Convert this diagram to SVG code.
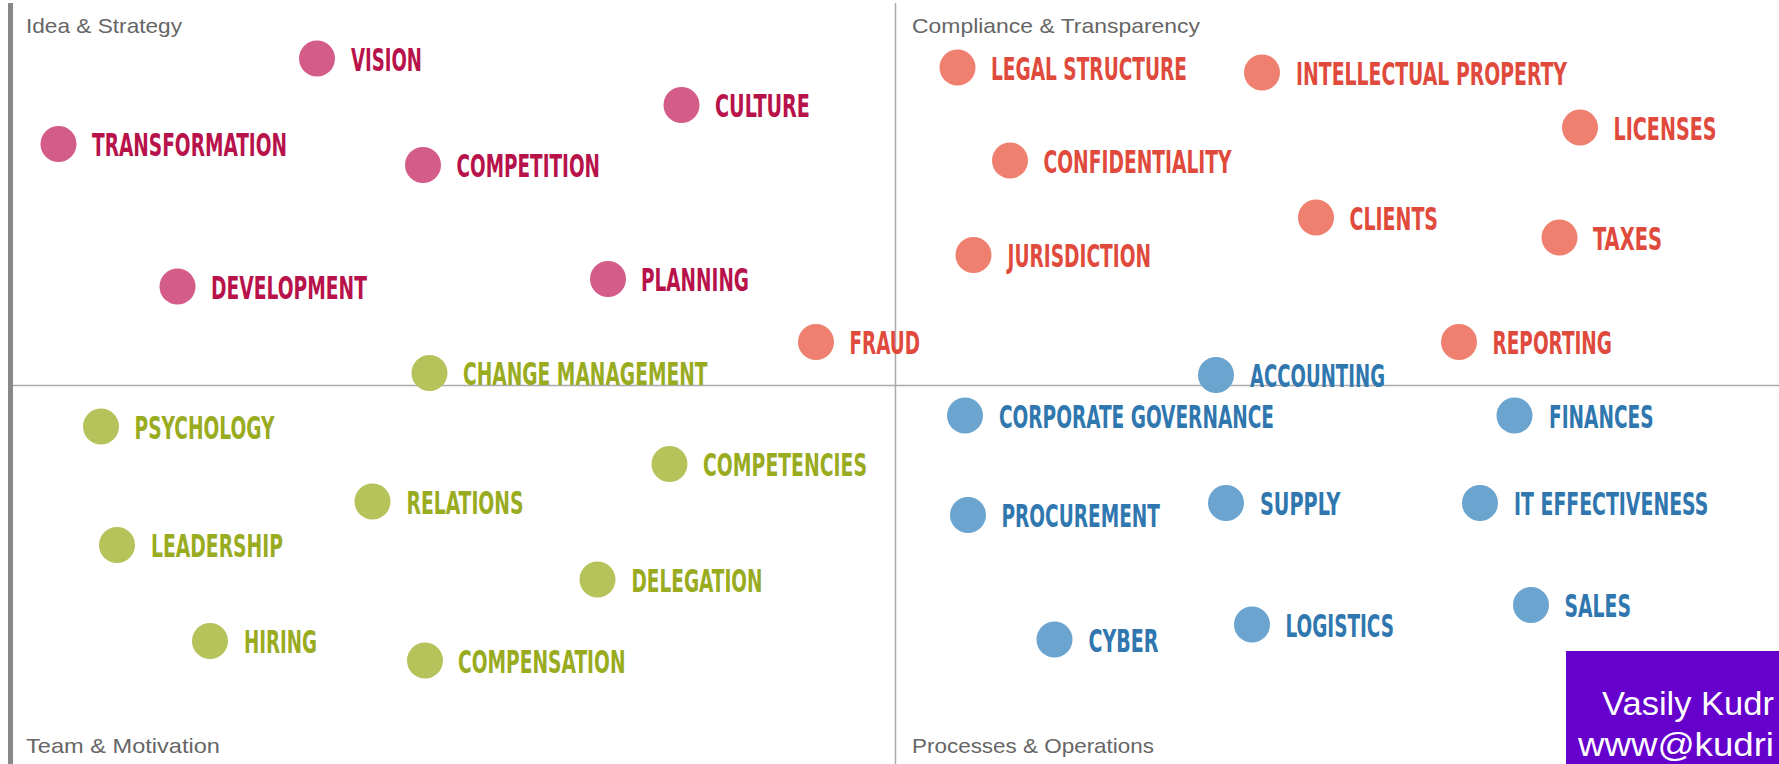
<svg xmlns="http://www.w3.org/2000/svg" width="1779" height="764" viewBox="0 0 1779 764">
<style>
.q{font-family:"Liberation Sans","Noto Sans",sans-serif;font-size:21px;fill:#666;}
.t{font-family:"DejaVu Sans Condensed","DejaVu Sans",sans-serif;font-weight:bold;font-size:32.5px;}
.pk circle{fill:#d45c88}.pk text{fill:#b8124b}
.rd circle{fill:#ef8070}.rd text{fill:#e04a3c}
.gr circle{fill:#b6c25a}.gr text{fill:#99ab1f}
.bl circle{fill:#6aa4cf}.bl text{fill:#2f77ae}
.ax{stroke:#aaa;stroke-width:1.5;fill:none}
.cr{font-family:"Liberation Sans",sans-serif;font-size:34px;fill:#fff}
</style>
<rect x="0" y="0" width="1779" height="764" fill="#fff"/>
<g id="axes">
<rect x="8" y="3" width="5" height="761" fill="#888"/>
<line class="ax" x1="13" y1="385.5" x2="1779" y2="385.5"/>
<line class="ax" x1="895.5" y1="3" x2="895.5" y2="764"/>
</g>
<g id="quadrant-labels">
<text class="q" x="26" y="33" textLength="156" lengthAdjust="spacingAndGlyphs">Idea &amp; Strategy</text>
<text class="q" x="912" y="33" textLength="288" lengthAdjust="spacingAndGlyphs">Compliance &amp; Transparency</text>
<text class="q" x="26" y="753" textLength="194" lengthAdjust="spacingAndGlyphs">Team &amp; Motivation</text>
<text class="q" x="912" y="753" textLength="242" lengthAdjust="spacingAndGlyphs">Processes &amp; Operations</text>
</g>
<g id="connectors"/>
<g id="vision" class="pk"><circle cx="317" cy="58.5" r="18"/><text class="t" x="351" y="70.5" textLength="71" lengthAdjust="spacingAndGlyphs">VISION</text></g>
<g id="culture" class="pk"><circle cx="681.5" cy="105" r="18"/><text class="t" x="715" y="117" textLength="95" lengthAdjust="spacingAndGlyphs">CULTURE</text></g>
<g id="transformation" class="pk"><circle cx="58.5" cy="144" r="18"/><text class="t" x="92" y="156" textLength="195" lengthAdjust="spacingAndGlyphs">TRANSFORMATION</text></g>
<g id="competition" class="pk"><circle cx="423" cy="165" r="18"/><text class="t" x="456.5" y="177" textLength="143.5" lengthAdjust="spacingAndGlyphs">COMPETITION</text></g>
<g id="development" class="pk"><circle cx="177.5" cy="286.5" r="18"/><text class="t" x="211" y="298.5" textLength="156" lengthAdjust="spacingAndGlyphs">DEVELOPMENT</text></g>
<g id="planning" class="pk"><circle cx="608" cy="279" r="18"/><text class="t" x="641" y="291" textLength="108" lengthAdjust="spacingAndGlyphs">PLANNING</text></g>
<g id="fraud" class="rd"><circle cx="816" cy="342" r="18"/><text class="t" x="849.5" y="354" textLength="70.5" lengthAdjust="spacingAndGlyphs">FRAUD</text></g>
<g id="legal-structure" class="rd"><circle cx="957.5" cy="67.5" r="18"/><text class="t" x="991" y="79.5" textLength="196" lengthAdjust="spacingAndGlyphs">LEGAL STRUCTURE</text></g>
<g id="intellectual-property" class="rd"><circle cx="1262" cy="72.5" r="18"/><text class="t" x="1296" y="84.5" textLength="271" lengthAdjust="spacingAndGlyphs">INTELLECTUAL PROPERTY</text></g>
<g id="licenses" class="rd"><circle cx="1580" cy="127.5" r="18"/><text class="t" x="1613.5" y="139.5" textLength="103" lengthAdjust="spacingAndGlyphs">LICENSES</text></g>
<g id="confidentiality" class="rd"><circle cx="1010" cy="160.5" r="18"/><text class="t" x="1043.5" y="172.5" textLength="188" lengthAdjust="spacingAndGlyphs">CONFIDENTIALITY</text></g>
<g id="clients" class="rd"><circle cx="1316" cy="217.5" r="18"/><text class="t" x="1349.5" y="229.5" textLength="88.5" lengthAdjust="spacingAndGlyphs">CLIENTS</text></g>
<g id="taxes" class="rd"><circle cx="1559.5" cy="237.5" r="18"/><text class="t" x="1593" y="249.5" textLength="69" lengthAdjust="spacingAndGlyphs">TAXES</text></g>
<g id="jurisdiction" class="rd"><circle cx="973.5" cy="255" r="18"/><text class="t" x="1007.5" y="267" textLength="143.5" lengthAdjust="spacingAndGlyphs">JURISDICTION</text></g>
<g id="reporting" class="rd"><circle cx="1459" cy="342" r="18"/><text class="t" x="1492.5" y="354" textLength="119.5" lengthAdjust="spacingAndGlyphs">REPORTING</text></g>
<g id="change-management" class="gr"><circle cx="429.5" cy="373" r="18"/><text class="t" x="463" y="385" textLength="244.5" lengthAdjust="spacingAndGlyphs">CHANGE MANAGEMENT</text></g>
<g id="psychology" class="gr"><circle cx="101" cy="426.5" r="18"/><text class="t" x="134.5" y="438.5" textLength="140" lengthAdjust="spacingAndGlyphs">PSYCHOLOGY</text></g>
<g id="competencies" class="gr"><circle cx="669.5" cy="464" r="18"/><text class="t" x="703" y="476" textLength="164" lengthAdjust="spacingAndGlyphs">COMPETENCIES</text></g>
<g id="relations" class="gr"><circle cx="372.5" cy="501.5" r="18"/><text class="t" x="406.5" y="513.5" textLength="117" lengthAdjust="spacingAndGlyphs">RELATIONS</text></g>
<g id="leadership" class="gr"><circle cx="117" cy="545" r="18"/><text class="t" x="151" y="557" textLength="132" lengthAdjust="spacingAndGlyphs">LEADERSHIP</text></g>
<g id="delegation" class="gr"><circle cx="597.5" cy="579.5" r="18"/><text class="t" x="631.5" y="591.5" textLength="131" lengthAdjust="spacingAndGlyphs">DELEGATION</text></g>
<g id="hiring" class="gr"><circle cx="210" cy="641" r="18"/><text class="t" x="244" y="653" textLength="73" lengthAdjust="spacingAndGlyphs">HIRING</text></g>
<g id="compensation" class="gr"><circle cx="425" cy="660.5" r="18"/><text class="t" x="458" y="672.5" textLength="167.5" lengthAdjust="spacingAndGlyphs">COMPENSATION</text></g>
<g id="accounting" class="bl"><circle cx="1216" cy="375" r="18"/><text class="t" x="1250" y="387" textLength="135" lengthAdjust="spacingAndGlyphs">ACCOUNTING</text></g>
<g id="corporate-governance" class="bl"><circle cx="965" cy="415.5" r="18"/><text class="t" x="999" y="427.5" textLength="275" lengthAdjust="spacingAndGlyphs">CORPORATE GOVERNANCE</text></g>
<g id="finances" class="bl"><circle cx="1514.5" cy="415.5" r="18"/><text class="t" x="1549" y="427.5" textLength="104.5" lengthAdjust="spacingAndGlyphs">FINANCES</text></g>
<g id="procurement" class="bl"><circle cx="968" cy="515" r="18"/><text class="t" x="1001.5" y="527" textLength="158.5" lengthAdjust="spacingAndGlyphs">PROCUREMENT</text></g>
<g id="supply" class="bl"><circle cx="1226" cy="503" r="18"/><text class="t" x="1260" y="515" textLength="80.5" lengthAdjust="spacingAndGlyphs">SUPPLY</text></g>
<g id="it-effectiveness" class="bl"><circle cx="1480" cy="503" r="18"/><text class="t" transform="translate(1514,515) scale(0.65,1)" x="0" y="0" textLength="299" lengthAdjust="spacingAndGlyphs">IT EFFECTIVENESS</text></g>
<g id="sales" class="bl"><circle cx="1531" cy="605" r="18"/><text class="t" x="1564.5" y="617" textLength="66.5" lengthAdjust="spacingAndGlyphs">SALES</text></g>
<g id="logistics" class="bl"><circle cx="1252" cy="624.5" r="18"/><text class="t" x="1285.5" y="636.5" textLength="108.5" lengthAdjust="spacingAndGlyphs">LOGISTICS</text></g>
<g id="cyber" class="bl"><circle cx="1054.5" cy="639.5" r="18"/><text class="t" x="1088.5" y="651.5" textLength="70" lengthAdjust="spacingAndGlyphs">CYBER</text></g>
<g id="credit">
<rect x="1566" y="651" width="213" height="113" fill="#6600cc"/>
<text class="cr" x="1602" y="715" textLength="172" lengthAdjust="spacingAndGlyphs">Vasily Kudr</text>
<text class="cr" x="1578" y="756" textLength="196" lengthAdjust="spacingAndGlyphs">www@kudri</text>
</g>
</svg>
